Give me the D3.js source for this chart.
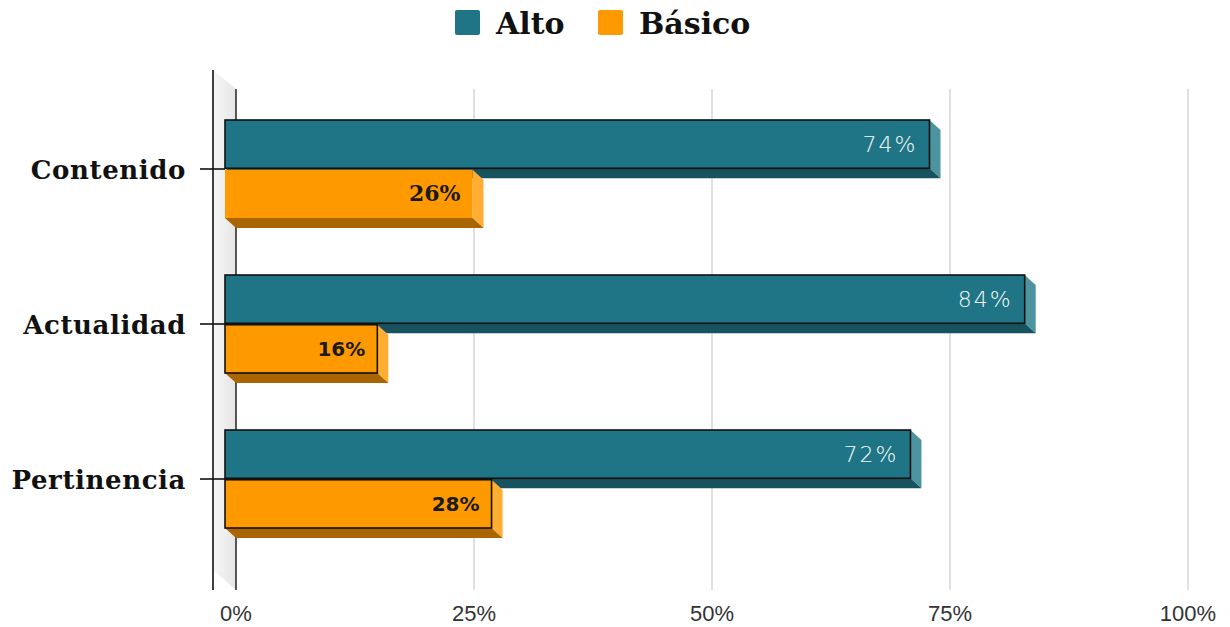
<!DOCTYPE html>
<html><head><meta charset="utf-8">
<script src="https://cdn.jsdelivr.net/npm/d3@7"></script>
<style>body{margin:0;background:#fff}svg{display:block}</style>
</head><body>
<svg id="c" width="1230" height="627"></svg>
<script>
const categories = ["Contenido", "Actualidad", "Pertinencia"];
const seriesNames = ["Alto", "Básico"];
const alto = [74, 84, 72];
const basico = [26, 16, 28];
const tickValues = [0, 25, 50, 75, 100];

const svg = d3.select("#c");
const colors = {
  "Alto": {front: "#1f7585", side: "#4c949f", bottom: "#17535e", label: "#f4f8f8"},
  "Básico": {front: "#ff9900", side: "#ffad33", bottom: "#aa6400", label: "#1a1a1a"}
};
const DX = 11, DY = 10; // 3D depth offset (back = front + offset)

const x = d3.scaleLinear().domain([0, 100]).range([236, 1188]);
const yc = d3.scalePoint().domain(categories).range([179, 489]);
const ys = d3.scaleBand().domain(seriesNames).range([-49, 49]).paddingInner(0.03);

// wall
const defs = svg.append("defs");
const g1 = defs.append("linearGradient").attr("id", "wall").attr("x1", 0).attr("x2", 1);
g1.append("stop").attr("offset", 0).attr("stop-color", "#f6f6f6");
g1.append("stop").attr("offset", 1).attr("stop-color", "#e6e6e6");
svg.append("polygon").attr("points", "213,70 236,89 236,590 213,570").attr("fill", "url(#wall)");

// gridlines (back plane)
svg.append("g").selectAll("line").data(tickValues).join("line")
  .attr("x1", d => x(d)).attr("x2", d => x(d))
  .attr("y1", 89).attr("y2", 590)
  .attr("stroke", d => d === 0 ? "#222" : "#d0d0d0")
  .attr("stroke-width", d => d === 0 ? 1.5 : 1.3);

// left axis line
svg.append("line").attr("x1", 213).attr("x2", 213).attr("y1", 70).attr("y2", 590)
  .attr("stroke", "#111").attr("stroke-width", 1.6);

// bottom tick labels
svg.append("g").selectAll("text").data(tickValues).join("text")
  .attr("x", d => x(d)).attr("y", 621).attr("text-anchor", "middle")
  .attr("font-family", "'Liberation Sans', Arial, sans-serif").attr("font-size", 22)
  .attr("fill", "#333").text(d => d + "%");

// bars
const rows = [];
categories.forEach((c, i) => {
  rows.push({cat: c, s: "Alto", v: alto[i], i});
  rows.push({cat: c, s: "Básico", v: basico[i], i});
});

const bars = svg.append("g");
rows.forEach(r => {
  const col = colors[r.s];
  const fx0 = x(0) - DX, fx1 = x(r.v) - DX;
  const fy0 = yc(r.cat) + ys(r.s) - DY, fy1 = fy0 + ys.bandwidth();
  const g = bars.append("g");
  g.append("polygon").attr("points", [[fx1, fy0], [fx1 + DX, fy0 + DY], [fx1 + DX, fy1 + DY], [fx1, fy1]].join(" "))
    .attr("fill", col.side);
  g.append("polygon").attr("points", [[fx0, fy1], [fx1, fy1], [fx1 + DX, fy1 + DY], [fx0 + DX, fy1 + DY]].join(" "))
    .attr("fill", col.bottom);
  const bordered = !(r.s === "Básico" && r.i === 0);
  g.append("rect").attr("x", fx0).attr("y", fy0).attr("width", fx1 - fx0).attr("height", fy1 - fy0)
    .attr("fill", col.front)
    .attr("stroke", bordered ? "#111" : "none").attr("stroke-width", 1.6);
  const isAlto = r.s === "Alto";
  const serifLbl = !isAlto && r.i === 0;
  g.append("text").attr("x", fx1 - 12).attr("y", (fy0 + fy1) / 2 + (isAlto ? 8 : 7))
    .attr("text-anchor", "end")
    .attr("font-family", serifLbl ? "'DejaVu Serif', serif" : "'DejaVu Sans', sans-serif")
    .attr("font-weight", isAlto ? 200 : "bold")
    .attr("font-size", isAlto ? 22 : (serifLbl ? 22 : 20))
    .attr("letter-spacing", isAlto ? 2 : 0)
    .attr("fill", col.label).text(r.v + "%");
});

// category ticks and labels
const cats = svg.append("g");
categories.forEach(c => {
  const yy = yc(c) - DY;
  cats.append("line").attr("x1", 200).attr("x2", x(0) - DX).attr("y1", yy).attr("y2", yy)
    .attr("stroke", "#111").attr("stroke-width", 1.6);
  cats.append("text").attr("x", 186).attr("y", yy + 10).attr("text-anchor", "end")
    .attr("font-family", "'DejaVu Serif', serif").attr("font-weight", "bold").attr("font-size", 26)
    .attr("letter-spacing", 0.6)
    .attr("fill", "#111").text(c);
});

// legend
const leg = svg.append("g");
const legX = [455, 598];
seriesNames.forEach((s, i) => {
  leg.append("rect").attr("x", legX[i]).attr("y", 10).attr("width", 25).attr("height", 25).attr("rx", 2)
    .attr("fill", colors[s].front);
  leg.append("text").attr("x", legX[i] + 41).attr("y", 34)
    .attr("font-family", "'DejaVu Serif', serif").attr("font-size", 30).attr("font-weight", 600)
    .attr("fill", "#111").text(s);
});
</script>
</body></html>
